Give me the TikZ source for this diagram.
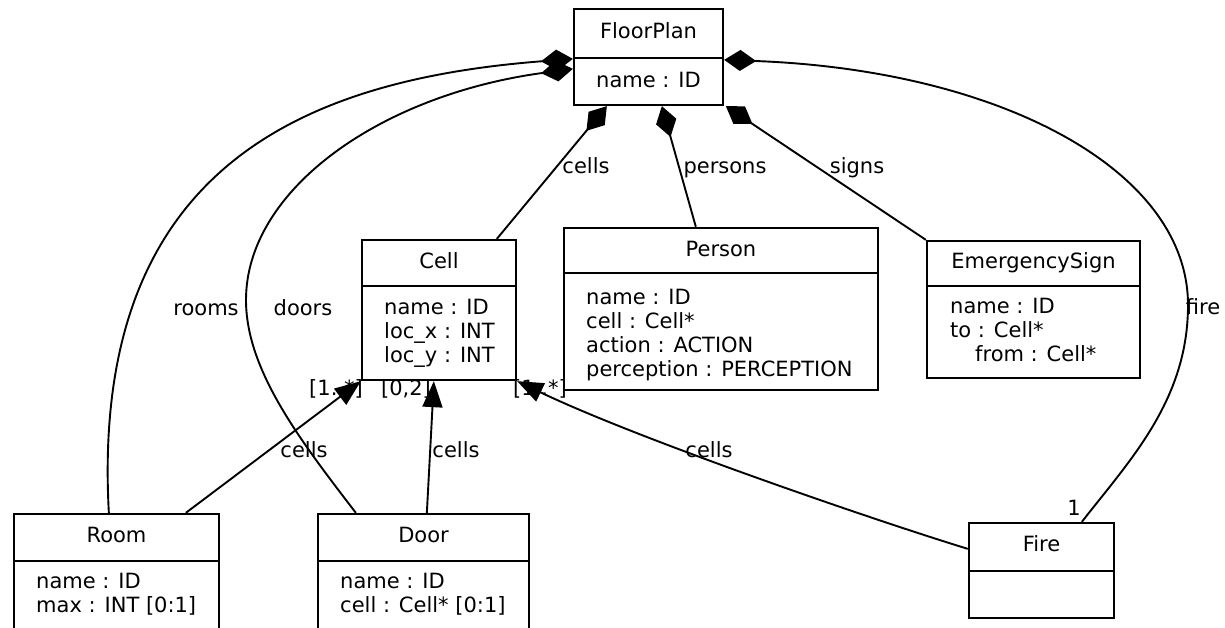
\documentclass[tikz,border=0pt]{standalone}
\usepackage{fontspec}
\setmainfont{DejaVu Sans}
\usetikzlibrary{arrows.meta,calc}
\begin{document}
\begin{tikzpicture}[x=1pt,y=-1pt,
  box/.style={draw,line width=2.3pt,rectangle,inner sep=0pt},
  txt/.style={inner sep=0pt,font=\fontsize{21}{24}\selectfont},
  ttl/.style={txt,anchor=base},
  att/.style={txt,anchor=base west},
  lbl/.style={txt,anchor=base},
  conn/.style={line width=1.9pt},
  comp/.style={conn,{Diamond[length=32pt,width=21pt]}-},
  gen/.style={conn,-{Triangle[length=26pt,width=20pt]}},
  divline/.style={line width=2.3pt},
]
\useasboundingbox (0,0) rectangle (1225,627);
\clip (0,0) rectangle (1225,627);

% class boxes
\node[box,minimum width=149pt,minimum height=96pt] (floorplan) at (648.5,57) {};
\node[box,minimum width=154pt,minimum height=140pt] (cell) at (439,310) {};
\node[box,minimum width=314pt,minimum height=162pt] (person) at (721,309) {};
\node[box,minimum width=213pt,minimum height=137pt] (sign) at (1033.5,309.5) {};
\node[box,minimum width=205pt,minimum height=126pt] (room) at (116.5,577) {};
\node[box,minimum width=211pt,minimum height=126pt] (door) at (423.5,577) {};
\node[box,minimum width=145pt,minimum height=95pt] (fire) at (1041.5,570.5) {};

% dividers
\draw[divline] (574,58) -- (723,58);
\draw[divline] (362,286) -- (516,286);
\draw[divline] (564,273) -- (878,273);
\draw[divline] (927,286) -- (1140,286);
\draw[divline] (14,561) -- (219,561);
\draw[divline] (318,561) -- (529,561);
\draw[divline] (969,571) -- (1114,571);

% titles
\node[ttl] (fpT) at (648.5,38) {FloorPlan};
\node[ttl] (cellT) at (439,268) {Cell};
\node[ttl] (personT) at (721,256) {Person};
\node[ttl] (signT) at (1033.5,268) {EmergencySign};
\node[ttl] (roomT) at (116.5,542) {Room};
\node[ttl] (doorT) at (423.5,542) {Door};
\node[ttl] (fireT) at (1041.5,551) {Fire};

% attributes
\node[ttl] (fpA) at (648.5,87) {name : ID};
\node[att] (cellA) at (384,314) {name : ID};
\node[att] (cellB) at (384,338) {loc\_x : INT};
\node[att] (cellC) at (384,362) {loc\_y : INT};
\node[att] (personA) at (586,304) {name : ID};
\node[att] (personB) at (586,328) {cell : Cell*};
\node[att] (personC) at (586,352) {action : ACTION};
\node[att] (personD) at (586,376) {perception : PERCEPTION};
\node[att] (signA) at (950,313) {name : ID};
\node[att] (signB) at (950,337) {to : Cell*};
\node[att] (signC) at (975,361) {from : Cell*};
\node[att] (roomA) at (36,588) {name : ID};
\node[att] (roomB) at (36,612) {max : INT [0:1]};
\node[att] (doorA) at (340,588) {name : ID};
\node[att] (doorB) at (340,612) {cell : Cell* [0:1]};

% edge labels
\node[lbl] (l1) at (586,173) {cells};
\node[lbl] (l2) at (725,173) {persons};
\node[lbl] (l3) at (857,173) {signs};
\node[lbl] (l4) at (206,315) {rooms};
\node[lbl] (l5) at (303,315) {doors};
\node[lbl] (l6) at (1203,314) {fire};
\node[lbl] (l7) at (304,457) {cells};
\node[lbl] (l8) at (456,457) {cells};
\node[lbl] (l9) at (709,457) {cells};
\node[lbl] (m1) at (336,395) {[1..*]};
\node[lbl] (m2) at (406,395) {[0,2]};
\node[lbl] (m3) at (540,395) {[1..*]};
\node[lbl] (m4) at (1074,515) {1};

% composition connectors
\draw[comp] ($(floorplan.south west)+(34,0)$) -- ($(cell.north west)+(136,0)$);
\draw[comp] ($(floorplan.south west)+(89,0)$) -- ($(person.north west)+(133,0)$);
\draw[comp] ($(floorplan.south west)+(153,0)$) -- (sign.north west);
\draw[comp] ($(floorplan.north west)+(0,51)$) .. controls (300,80) and (90,170) .. ($(room.north west)+(96,0)$);
\draw[comp] ($(floorplan.north west)+(0,61)$) .. controls (380,95) and (246,190) .. (246,300)
   .. controls (246,370) and (300,440) .. ($(door.north west)+(39,0)$);
\draw[comp] ($(floorplan.north east)+(0,52)$) .. controls (1000,70) and (1188,170) .. (1188,305)
   .. controls (1188,400) and (1130,460) .. ($(fire.north west)+(114,0)$);

% association connectors with arrowheads
\draw[gen] ($(room.north west)+(173,0)$) -- (cell.south west);
\draw[gen] ($(door.north west)+(110,0)$) -- ($(cell.south west)+(73,0)$);
\draw[gen] ($(fire.north west)+(0,27)$) .. controls (880,522) and (640,440) .. (cell.south east);
\end{tikzpicture}
\end{document}
